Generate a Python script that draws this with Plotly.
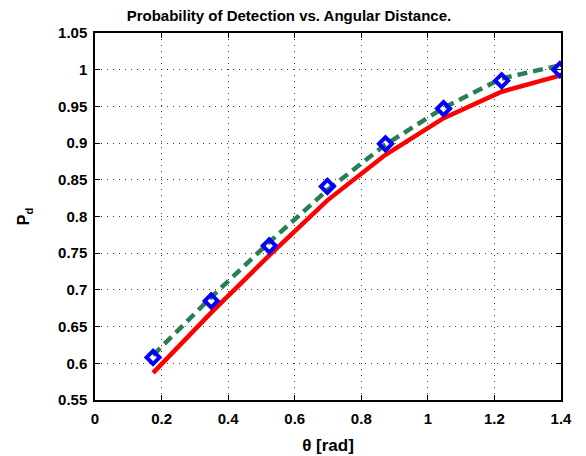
import plotly.graph_objects as go

theta = [0.1745, 0.3491, 0.5236, 0.6981, 0.8727, 1.0472, 1.2217, 1.3963]
pd_markers = [0.608, 0.685, 0.760, 0.841, 0.899, 0.947, 0.985, 1.000]
pd_dashed = [0.611, 0.690, 0.765, 0.836, 0.898, 0.948, 0.988, 1.006]
pd_solid = [0.587, 0.669, 0.747, 0.822, 0.884, 0.934, 0.970, 0.992]

x_ticks = [0, 0.2, 0.4, 0.6, 0.8, 1.0, 1.2, 1.4]
x_tick_labels = ["0", "0.2", "0.4", "0.6", "0.8", "1", "1.2", "1.4"]
y_ticks = [0.55, 0.6, 0.65, 0.7, 0.75, 0.8, 0.85, 0.9, 0.95, 1.0, 1.05]
y_tick_labels = ["0.55", "0.6", "0.65", "0.7", "0.75", "0.8", "0.85", "0.9", "0.95", "1", "1.05"]

fig = go.Figure()
fig.add_trace(go.Scatter(x=theta, y=pd_solid, mode="lines",
                         line=dict(color="#ff0000", width=4.5), showlegend=False))
fig.add_trace(go.Scatter(x=theta, y=pd_dashed, mode="lines",
                         line=dict(color="#2a7f52", width=4.5, dash="10px,6px"), showlegend=False))
fig.add_trace(go.Scatter(x=theta, y=pd_markers, mode="markers",
                         marker=dict(symbol="diamond-open", size=10, color="#0000ff",
                                     line=dict(color="#0000ff", width=4)),
                         showlegend=False))

font = "Liberation Sans, Arial, Helvetica, sans-serif"
axis_common = dict(
    showline=True, linecolor="black", linewidth=1.5, mirror="ticks",
    ticks="inside", ticklen=5, tickcolor="black", tickwidth=1,
    showgrid=True, gridcolor="rgba(0,0,0,0.75)", gridwidth=1, griddash="1px,5px",
    zeroline=False, automargin=False,
    tickfont=dict(family=font, size=15, color="black", weight="bold"),
)

fig.update_layout(
    width=578, height=448,
    margin=dict(l=87, r=25, t=25, b=56),
    paper_bgcolor="white", plot_bgcolor="white",
    title=dict(text="<b>Probability of Detection vs. Angular Distance.</b>",
               x=0.486, xanchor="center", y=0.994, yanchor="top",
               font=dict(family=font, size=15, color="black")),
    xaxis=dict(range=[0, 1.4], tickvals=x_ticks, ticktext=x_tick_labels,
               ticklabelstandoff=4,
               title=dict(text="<b>θ [rad]</b>", standoff=13,
                          font=dict(family=font, size=17, color="black")),
               **axis_common),
    yaxis=dict(range=[0.55, 1.05], tickvals=y_ticks, ticktext=y_tick_labels,
               ticklabelstandoff=3,
               title=dict(text="<b>P<sub>d</sub></b>", standoff=24,
                          font=dict(family=font, size=16, color="black")),
               **axis_common),
)

fig.write_html("out.html")
